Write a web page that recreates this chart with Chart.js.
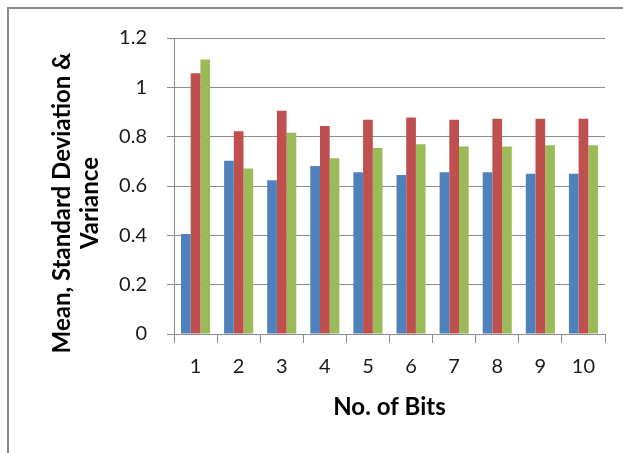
<!DOCTYPE html>
<html>
<head>
<meta charset="utf-8">
<script src="https://cdn.jsdelivr.net/npm/chart.js@4/dist/chart.umd.min.js"></script>
<style>
    html, body { margin: 0; padding: 0; background: #fff; overflow: hidden; }
    #frame { position: absolute; left: 7px; top: 7px; width: 700px; height: 600px; border: 2px solid #8c8c8c; }
    #bitsChart { position: absolute; left: 0; top: 0; }
</style>
</head>
<body>
<div id="frame"></div>
<canvas id="bitsChart" width="623" height="453"></canvas>
<script>
const bits = ['1', '2', '3', '4', '5', '6', '7', '8', '9', '10'];
const meanValues = [0.405, 0.702, 0.623, 0.681, 0.656, 0.645, 0.656, 0.656, 0.650, 0.650];
const stdDevValues = [1.057, 0.822, 0.905, 0.843, 0.869, 0.878, 0.869, 0.873, 0.873, 0.873];
const varianceValues = [1.113, 0.671, 0.816, 0.712, 0.754, 0.769, 0.760, 0.760, 0.765, 0.765];
const yTickLabels = ['0', '0.2', '0.4', '0.6', '0.8', '1', '1.2'];
const yTitleLines = ['Mean, Standard Deviation &', 'Variance'];

const fontFamily = "Lato, 'Open Sans', sans-serif";
const gridColor = '#8c8c8c';

// y title sits a bit lower than the axis centre in the original, so draw it by hand
const yTitlePlugin = {
    id: 'yTitle',
    afterDraw: function (chart) {
        const c = chart.ctx;
        const area = chart.chartArea;
        c.save();
        c.translate(62, (area.top + area.bottom) / 2 + 17);
        c.rotate(-Math.PI / 2);
        c.fillStyle = '#000';
        c.font = "bold 24px " + fontFamily;
        c.textAlign = 'center';
        c.textBaseline = 'middle';
        yTitleLines.forEach(function (line, i) {
            c.fillText(line, 0, i * 28);
        });
        c.restore();
    }
};

document.addEventListener("DOMContentLoaded", function () {
    const ctx = document.getElementById('bitsChart').getContext('2d');
    new Chart(ctx, {
        type: 'bar',
        data: {
            labels: bits,
            datasets: [{
                label: 'Mean',
                data: meanValues,
                backgroundColor: '#4f81bd'
            }, {
                label: 'Standard Deviation',
                data: stdDevValues,
                backgroundColor: '#c0504d'
            }, {
                label: 'Variance',
                data: varianceValues,
                backgroundColor: '#9bbb59'
            }]
        },
        options: {
            responsive: false,
            animation: false,
            layout: { padding: { left: 0, top: 38, right: 18, bottom: 31 } },
            datasets: {
                bar: { categoryPercentage: 0.675, barPercentage: 1 }
            },
            plugins: {
                legend: { display: false },
                tooltip: { enabled: false }
            },
            scales: {
                x: {
                    grid: { offset: true, drawOnChartArea: false, color: gridColor, tickLength: 9 },
                    border: { color: gridColor },
                    ticks: { color: '#1a1a1a', padding: 12, font: { family: fontFamily, size: 20 } },
                    title: {
                        display: true,
                        text: 'No. of Bits',
                        color: '#000',
                        padding: 0,
                        font: { family: fontFamily, size: 24, weight: 'bold' }
                    },
                    afterFit: function (scale) { scale.height = 88; }
                },
                y: {
                    min: 0,
                    max: 1.2,
                    ticks: {
                        stepSize: 0.2,
                        color: '#1a1a1a',
                        padding: 20,
                        font: { family: fontFamily, size: 20 },
                        callback: function (value, index) { return yTickLabels[index]; }
                    },
                    grid: { color: gridColor, tickLength: 7 },
                    border: { color: gridColor },
                    afterFit: function (scale) { scale.width = 174; }
                }
            }
        },
        plugins: [yTitlePlugin]
    });
});
</script>
</body>
</html>
